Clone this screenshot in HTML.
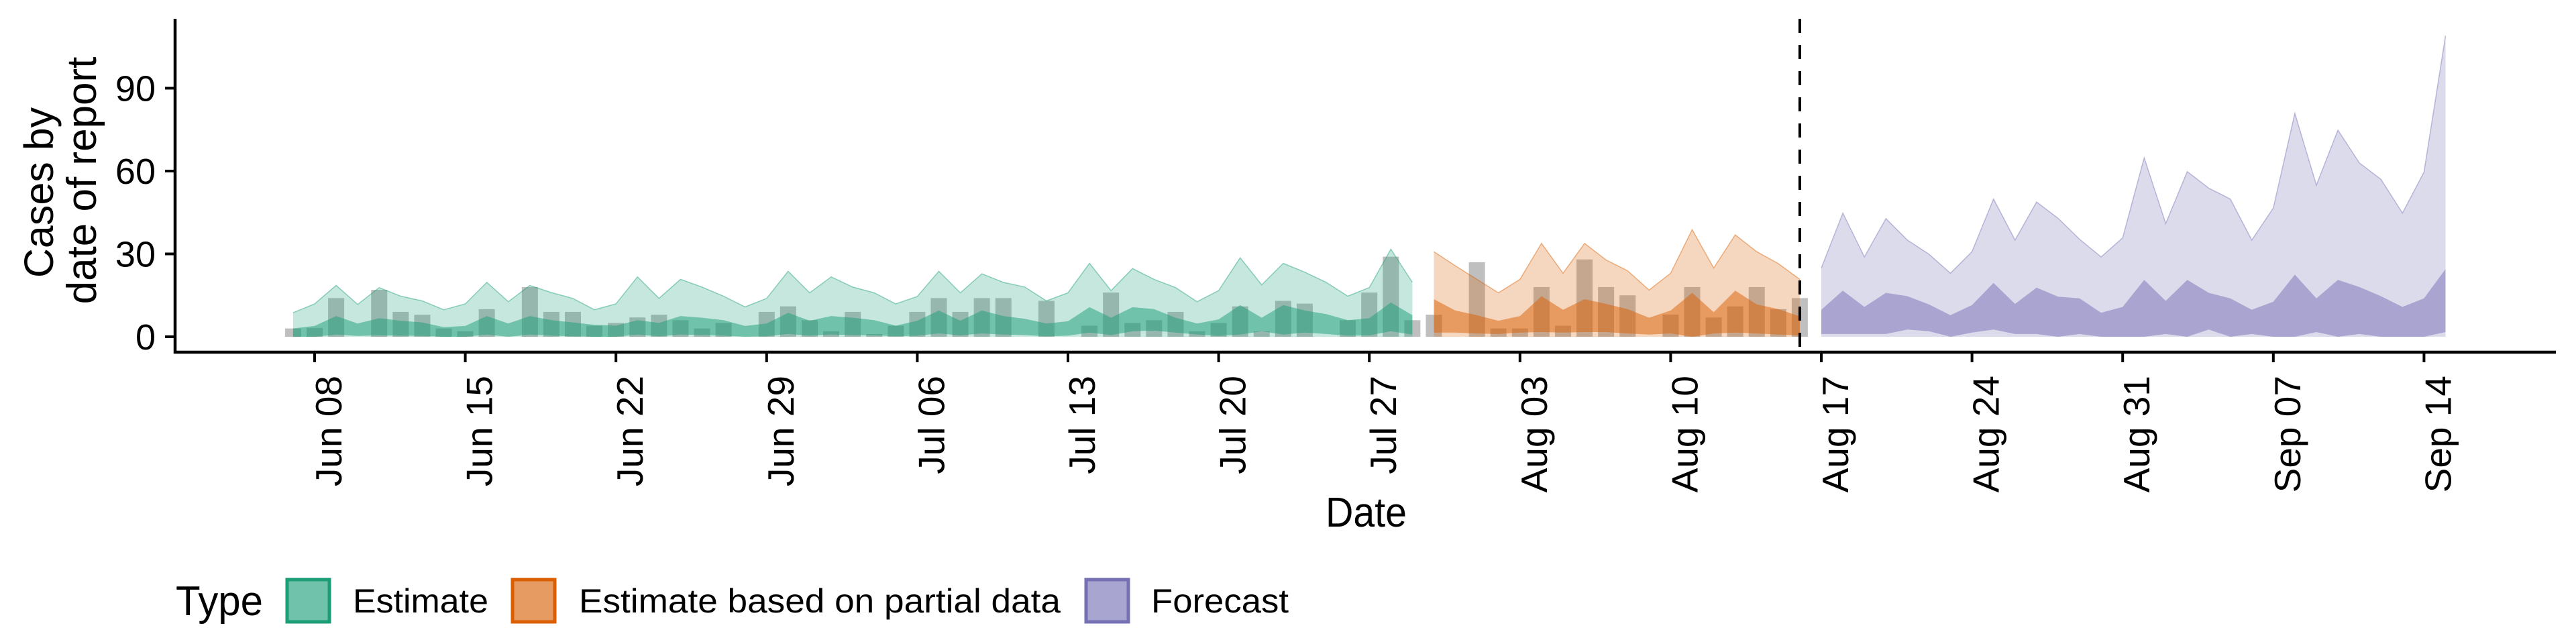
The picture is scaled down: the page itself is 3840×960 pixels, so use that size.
<!DOCTYPE html>
<html><head><meta charset="utf-8"><title>Cases by date of report</title>
<style>
html,body{margin:0;padding:0;background:#fff;}
svg{display:block;font-family:"Liberation Sans",Arial,sans-serif;}
</style></head>
<body>
<svg id="chart" width="3840" height="960" viewBox="0 0 3840 960" xmlns="http://www.w3.org/2000/svg">
  <rect width="3840" height="960" fill="#fff"/>
  <g id="bars"></g>
  <g id="ribbons"></g>
  <g id="axes"></g>
  <text x="79" y="287" font-size="61" text-anchor="middle" transform="rotate(-90 79 287)">Cases by</text>
  <text x="143" y="269" font-size="62" text-anchor="middle" transform="rotate(-90 143 269)">date of report</text>
  <text x="1976" y="785" font-size="62" textLength="121" lengthAdjust="spacingAndGlyphs">Date</text>
  <g>
    <text x="262" y="917" font-size="62" textLength="130" lengthAdjust="spacingAndGlyphs">Type</text>
    <g>
      <rect x="428" y="864" width="63" height="63" fill="#70c2aa" stroke="#1b9e77" stroke-width="5"/>
      <text x="526" y="913" font-size="50" textLength="202" lengthAdjust="spacingAndGlyphs">Estimate</text>
    </g>
    <g>
      <rect x="764" y="864" width="63" height="63" fill="#e69b62" stroke="#d95f02" stroke-width="5"/>
      <text x="863" y="913" font-size="50" textLength="718" lengthAdjust="spacingAndGlyphs">Estimate based on partial data</text>
    </g>
    <g>
      <rect x="1619" y="864" width="63" height="63" fill="#a8a6d1" stroke="#7570b3" stroke-width="5"/>
      <text x="1716" y="913" font-size="50" textLength="205" lengthAdjust="spacingAndGlyphs">Forecast</text>
    </g>
  </g>
</svg>
<script>
// day 0 = Jun 07
const barValues = [3,3.2,14,0,17,9,8,3,2,10,0,18,9,9,4,5,7,8,6,3,5,0,9,11,6,2,9,1,4,9,14,9,14,14,0,13,0,4,16,5,6,9,2,5,11,2,13,12,0,6,16,29,6,8,0,27,3,3,18,4,28,18,15,0,8,18,7,11,18,10,14];
const estStart = 0;
const estUpper90 = [8.7,11.9,18.6,11.7,17.8,14.7,13,9.8,11.9,19.7,12.7,18.6,16,13.9,9.8,11.9,21.7,13.9,20.8,18,14.7,10.8,13.9,23.7,15.9,21.7,18,15.9,11.9,14.6,23.7,15.9,22.8,19.7,18,13,15.9,26.6,16.7,24.7,20.8,17.8,12.7,16.7,28.6,18.8,26.6,23.4,19.7,14.7,17.8,31.7,19.7];
const estUpper50 = [3,3.9,7.5,4.8,6.7,5.8,5.2,3.5,3.9,7.5,4.8,7.5,6,5.2,4.3,4,6,5,7.5,6.9,6,3.9,4.8,8.7,5.8,7.5,6.9,6,4,5.8,9.5,5.8,9.5,7.5,6.5,4.8,5.6,10.7,6.9,10.7,10,6.9,4.8,6.3,11.5,6.9,11.5,9.5,8.2,6,6.7,12.4,7.8];
const estLower50 = [0,0,0.8,0.3,0.5,0.4,0.3,0,0,0.8,0,0.8,0.4,0.2,0,0,0.8,0.2,0.8,0.6,0.4,0,0.2,1.0,0.4,0.8,0.6,0.5,0.2,0.4,1.2,0.5,1.2,0.8,0.6,0.2,0.4,1.5,0.6,2.0,2.2,1.5,0.8,0.3,0.8,2.0,0.8,1.5,1.0,0.4,0.5,2.0,0.8];
const partStart = 53;
const partUpper90 = [30.8,25.7,20.8,15.9,20.8,33.8,23,33.8,27.8,23.9,16.9,23,38.8,24.9,36.9,30.8,26.5,20.8];
const partUpper50 = [13.6,9.5,7.8,5.8,7.5,14.7,9.8,13.6,11.9,10,6.9,9.5,15.9,8.9,16.7,11.7,10,7.4];
const partLower50 = [1.5,1.5,1.2,1.0,1.5,1.7,1.5,1.7,1.7,1.2,0.8,1.2,0,1.2,1.5,1.2,0.8,0.5];
const foreStart = 71;
const foreUpper90 = [24.9,44.8,28.9,42.8,35,29.9,23,30.8,49.9,35,48.8,42.9,35.3,28.9,35.8,64.8,41,59.8,53.8,49.9,35,46.6,80.9,54.9,74.8,62.9,57,44.8,59.6,109];
const foreUpper50 = [9.8,16.7,10.8,15.9,14.7,11.7,7.8,11.5,19.5,11.9,17.8,14.5,13.9,8.7,10.8,20.6,13,20.6,15.9,13.9,9.8,12.7,22.5,13.9,20.6,18,14.7,10.8,13.9,24.5];
const foreLower50 = [1,1,1,1,2.6,2,0,1.5,2.6,1,1,0,1,0,0,0,1,0,2.6,0,1,0,0,1.7,0,1,0,0,0,1.7];
const xTickLabels = ["Jun 08","Jun 15","Jun 22","Jun 29","Jul 06","Jul 13","Jul 20","Jul 27","Aug 03","Aug 10","Aug 17","Aug 24","Aug 31","Sep 07","Sep 14"];
const xTickDays = [1,8,15,22,29,36,43,50,57,64,71,78,85,92,99];
const yTickValues = [0,30,60,90];
const forecastLineDay = 70;

const NS = "http://www.w3.org/2000/svg";
const X0 = 436.9, PXD = 32.086;
const Y0 = 502, PXV = 4.117;
function xs(d){ return X0 + PXD * d; }
function ys(v){ return Y0 - PXV * v; }
function mk(tag, attrs, parent){
  const e = document.createElementNS(NS, tag);
  for (const k in attrs) e.setAttribute(k, attrs[k]);
  parent.appendChild(e);
  return e;
}

const barsG = document.getElementById('bars');
barValues.forEach((v, i) => {
  if (v <= 0) return;
  const r = mk('rect', {x: xs(i) - 12, y: ys(v), width: 24, height: ys(0) - ys(v), fill: '#808080', 'fill-opacity': 0.5}, barsG);
  
  
});

const ribG = document.getElementById('ribbons');
function band(start, lower, upper, color, op, name, stroke){
  let top = '', bot = '';
  upper.forEach((v, i) => { top += (i ? 'L' : 'M') + xs(start + i).toFixed(1) + ',' + ys(v).toFixed(1); });
  for (let i = lower.length - 1; i >= 0; i--) bot += 'L' + xs(start + i).toFixed(1) + ',' + ys(lower[i]).toFixed(1);
  const p = mk('path', {d: top + bot + 'Z', fill: color, 'fill-opacity': op}, ribG);
  
  
  if (stroke) {
    const l = mk('path', {d: top, fill: 'none', stroke: color, 'stroke-opacity': 0.45, 'stroke-width': 1.5}, ribG);
    
    
  }
}
const zeros = n => new Array(n).fill(0);
band(estStart, zeros(estUpper90.length), estUpper90, '#1b9e77', 0.25, 'estimate-90-band', true);
band(estStart, estLower50, estUpper50, '#1b9e77', 0.5, 'estimate-50-band', false);
band(partStart, zeros(partUpper90.length), partUpper90, '#d95f02', 0.25, 'partial-90-band', true);
band(partStart, partLower50, partUpper50, '#d95f02', 0.5, 'partial-50-band', false);
band(foreStart, zeros(foreUpper90.length), foreUpper90, '#7570b3', 0.25, 'forecast-90-band', true);
band(foreStart, foreLower50, foreUpper50, '#7570b3', 0.5, 'forecast-50-band', false);

const ax = document.getElementById('axes');
const dl = mk('line', {x1: xs(forecastLineDay), x2: xs(forecastLineDay), y1: 28, y2: 525, stroke: '#000', 'stroke-width': 4, 'stroke-dasharray': '21 18'}, ax);


const ya = mk('line', {x1: 261, x2: 261, y1: 28, y2: 527, stroke: '#000', 'stroke-width': 4.5}, ax);


const xa = mk('line', {x1: 259, x2: 3810, y1: 525, y2: 525, stroke: '#000', 'stroke-width': 4.5}, ax);


yTickValues.forEach(v => {
  const t = mk('line', {x1: 246, x2: 261, y1: ys(v), y2: ys(v), stroke: '#000', 'stroke-width': 4}, ax);
  
  
  const tx = mk('text', {x: 232, y: ys(v) + 19, 'font-size': 54, 'text-anchor': 'end'}, ax);
  tx.textContent = String(v);
  
  
});
xTickDays.forEach((d, i) => {
  const x = xs(d);
  const t = mk('line', {x1: x, x2: x, y1: 525, y2: 540, stroke: '#000', 'stroke-width': 4}, ax);
  
  
  const bx = x + 40, by = 560;
  const tx = mk('text', {x: bx, y: by, 'font-size': 55, 'text-anchor': 'end', transform: 'rotate(-90 ' + bx + ' ' + by + ')'}, ax);
  tx.textContent = xTickLabels[i];
  
  
});
</script>
</body></html>
